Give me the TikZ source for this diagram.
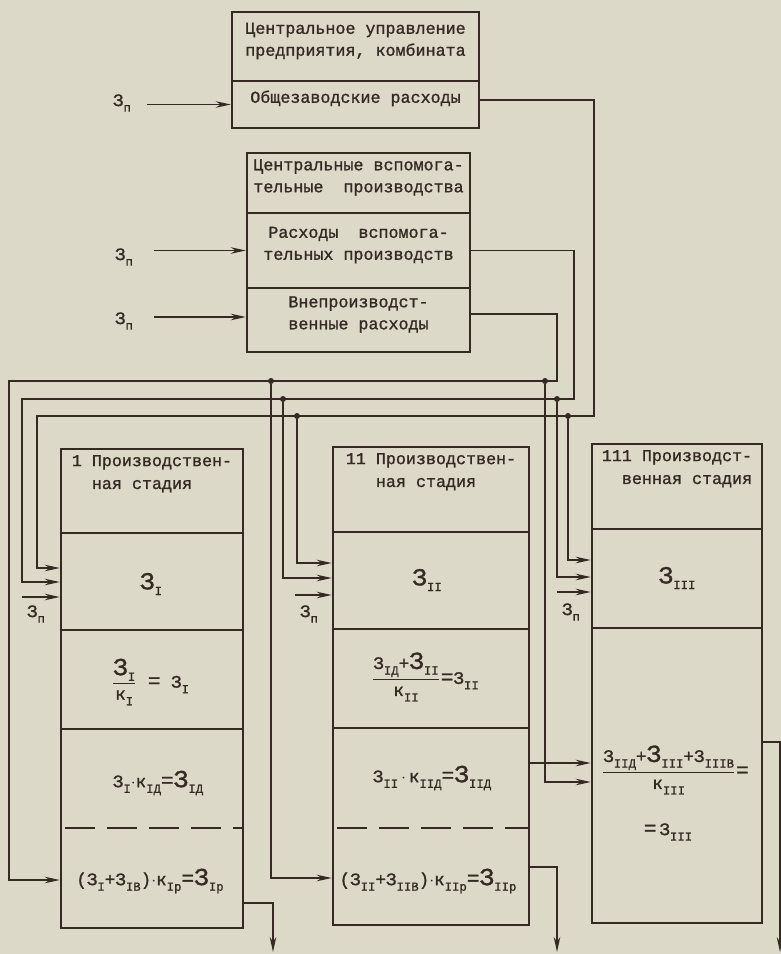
\documentclass[tikz,border=0pt]{standalone}
\usepackage{fontspec}
\setmainfont{Liberation Mono}[FakeBold=1.2]
\usetikzlibrary{arrows.meta,positioning,fit}

\definecolor{paper}{RGB}{221,217,201}
\definecolor{ink}{RGB}{52,42,34}

% subscript and large З
\newcommand{\ix}[1]{\raisebox{-0.6ex}{\fontsize{7}{7}\selectfont #1}}
\newcommand{\Zb}{{\fontsize{14}{14}\selectfont З}}
\newcommand{\eq}{{\fontsize{12}{12}\selectfont =}}

\begin{document}
\begin{tikzpicture}[x=0.2mm, y=-0.2mm, ink,
    box/.style={draw, line width=1.4pt, inner sep=0pt, align=center,
                font=\fontsize{9.5}{12.5}\selectfont},
    frame/.style={draw, line width=1.4pt, inner sep=0pt},
    hd/.style={inner sep=0pt, align=left, font=\fontsize{9.5}{13}\selectfont},
    fm/.style={inner sep=0pt, align=center, font=\fontsize{10}{12}\selectfont},
    zp/.style={inner sep=0pt, font=\fontsize{10}{12}\selectfont},
    row/.style={line width=1.3pt},
    dashrow/.style={line width=1.3pt, dash pattern=on 6mm off 2.4mm, dash phase=7.4mm},
    wire/.style={line width=1.1pt},
    arr/.style={wire, -{Stealth[length=3mm, width=1.3mm]}},
    dot/.style={circle, fill, inner sep=0pt, minimum size=1.2mm}]

    % paper
    \fill[paper] (0,0) rectangle (781,954);
    \useasboundingbox (0,0) rectangle (781,954);

    % central management
    \node[box, fit={(232,12) (479,81)}] (cu) {Центральное управление\\предприятия, комбината};
    \node[box, fit={(232,81) (479,128)}] (ozr) {Общезаводские расходы};
    \node[zp] (zp1) at (122,103) {З\ix{п}};
    \draw[arr] ([xshift=-16.8mm]ozr.west) -- (ozr.west);

    % auxiliary departments
    \node[box, fit={(247,153) (470,213)}] (cv) {Центральные вспомога-\\тельные~ производства};
    \node[box, fit={(247,213) (470,288)}] (rv) {Расходы~ вспомога-\\тельных производств};
    \node[box, fit={(247,288) (470,352)}] (vr) {Внепроизводст-\\венные расходы};
    \node[zp] (zp2) at (124,257) {З\ix{п}};
    \draw[arr] ([xshift=-18.4mm]rv.west) -- (rv.west);
    \node[zp] (zp3) at (124,321) {З\ix{п}};
    \draw[arr] ([xshift=-18.4mm, yshift=0.6mm]vr.west) -- ([yshift=0.6mm]vr.west);

    % stage I
    \node[frame, fit={(61,449) (243,928)}] (st1) {};
    \draw[row] (st1.west |- 0,533) -- (st1.east |- 0,533);
    \draw[row] (st1.west |- 0,630) -- (st1.east |- 0,630);
    \draw[row] (st1.west |- 0,729) -- (st1.east |- 0,729);
    \draw[dashrow] (st1.west |- 0,828) -- (st1.east |- 0,828);
    \node[hd, below=1.4mm of st1.north] (t1) {1 Производствен-\\\phantom{1 }ная стадия};
    \node[fm] (a1) at (151,584) {\Zb\ix{I}};
    \node[fm] (b1) at (150,682) {$\displaystyle\frac{\hbox{\Zb\ix{I}}}{\hbox{к\ix{I}}}$ \eq{} З\ix{I}};
    \node[fm] (c1) at (158,783) {З\ix{I}$\cdot$к\ix{IД}\eq\Zb\ix{IД}};
    \node[fm] (e1) at (150,881) {(З\ix{I}+З\ix{IВ})$\cdot$к\ix{Iр}\eq\Zb\ix{Iр}};

    % stage II
    \node[frame, fit={(333,447) (529,925)}] (st2) {};
    \draw[row] (st2.west |- 0,532) -- (st2.east |- 0,532);
    \draw[row] (st2.west |- 0,629) -- (st2.east |- 0,629);
    \draw[row] (st2.west |- 0,728) -- (st2.east |- 0,728);
    \draw[dashrow] (st2.west |- 0,828) -- (st2.east |- 0,828);
    \node[hd, below=1.4mm of st2.north] (t2) {11 Производствен-\\\phantom{11 }ная стадия};
    \node[fm] (a2) at (427,580) {\Zb\ix{II}};
    \node[fm] (b2) at (425,677) {$\displaystyle\frac{\hbox{З\ix{IД}+\Zb\ix{II}}}{\hbox{к\ix{II}}}$\eq З\ix{II}};
    \node[fm] (c2) at (432,778) {З\ix{II}\,$\cdot$\,к\ix{IIД}\eq\Zb\ix{IIД}};
    \node[fm] (e2) at (428,881) {(З\ix{II}+З\ix{IIВ})$\cdot$к\ix{IIр}\eq\Zb\ix{IIр}};

    % stage III
    \node[frame, fit={(592,444) (762,923)}] (st3) {};
    \draw[row] (st3.west |- 0,529) -- (st3.east |- 0,529);
    \draw[row] (st3.west |- 0,628) -- (st3.east |- 0,628);
    \node[hd, below=1.4mm of st3.north] (t3) {111 Производст-\\\phantom{11}венная стадия};
    \node[fm] (a3) at (677,578) {\Zb\ix{III}};
    \node[fm] (b3) at (675,770) {$\displaystyle\frac{\hbox{З\ix{IIД}+\Zb\ix{III}+З\ix{IIIВ}}}{\hbox{к\ix{III}}}$\eq};
    \node[fm] (c3) at (668,832) {\eq\,З\ix{III}};

    % overheads to the stages
    \node[dot] (d1a) at (271,381) {};
    \node[dot] (d1b) at (545,381) {};
    \node[dot] (d2a) at (283,399) {};
    \node[dot] (d2b) at (557,399) {};
    \node[dot] (d3a) at (297,416) {};
    \node[dot] (d3b) at (568,416) {};
    \draw[arr] ([yshift=0.9mm]ozr.east) -| (594,416) -| (37,568) -- (st1.west |- 0,568);
    \draw[arr] (rv.east) -| (574,399) -| (22,582) -- (st1.west |- 0,582);
    \draw[arr] ([yshift=1.2mm]vr.east) -| (557,381) -| (9,880) -- (st1.west |- 0,880);
    \draw[arr] (d1a) |- (st2.west |- 0,878);
    \draw[arr] (d1b) |- (st3.west |- 0,782);
    \draw[arr] (d2a) |- (st2.west |- 0,578);
    \draw[arr] (d2b) |- (st3.west |- 0,577);
    \draw[arr] (d3a) |- (st2.west |- 0,563);
    \draw[arr] (d3b) |- (st3.west |- 0,560);

    % direct costs
    \node[zp] (zp4) at (36,614) {З\ix{п}};
    \draw[arr] ([xshift=-7.6mm]st1.west |- 0,597) -- (st1.west |- 0,597);
    \node[zp] (zp5) at (309,614) {З\ix{п}};
    \draw[arr] ([xshift=-7.4mm]st2.west |- 0,595) -- (st2.west |- 0,595);
    \node[zp] (zp6) at (571,612) {З\ix{п}};
    \draw[arr] ([xshift=-6.8mm]st3.west |- 0,592) -- (st3.west |- 0,592);

    % outputs
    \coordinate (o1) at (273,952);
    \coordinate (o2) at (557,952);
    \coordinate (o3) at (780,952);
    \draw[arr] (st1.east |- 0,903) -| (o1);
    \draw[arr] (st2.east |- 0,867) -| (o2);
    \draw[arr] (st3.east |- 0,742) -| (o3);
    \draw[arr] (st2.east |- 0,763) -- (st3.west |- 0,763);
\end{tikzpicture}
\end{document}
